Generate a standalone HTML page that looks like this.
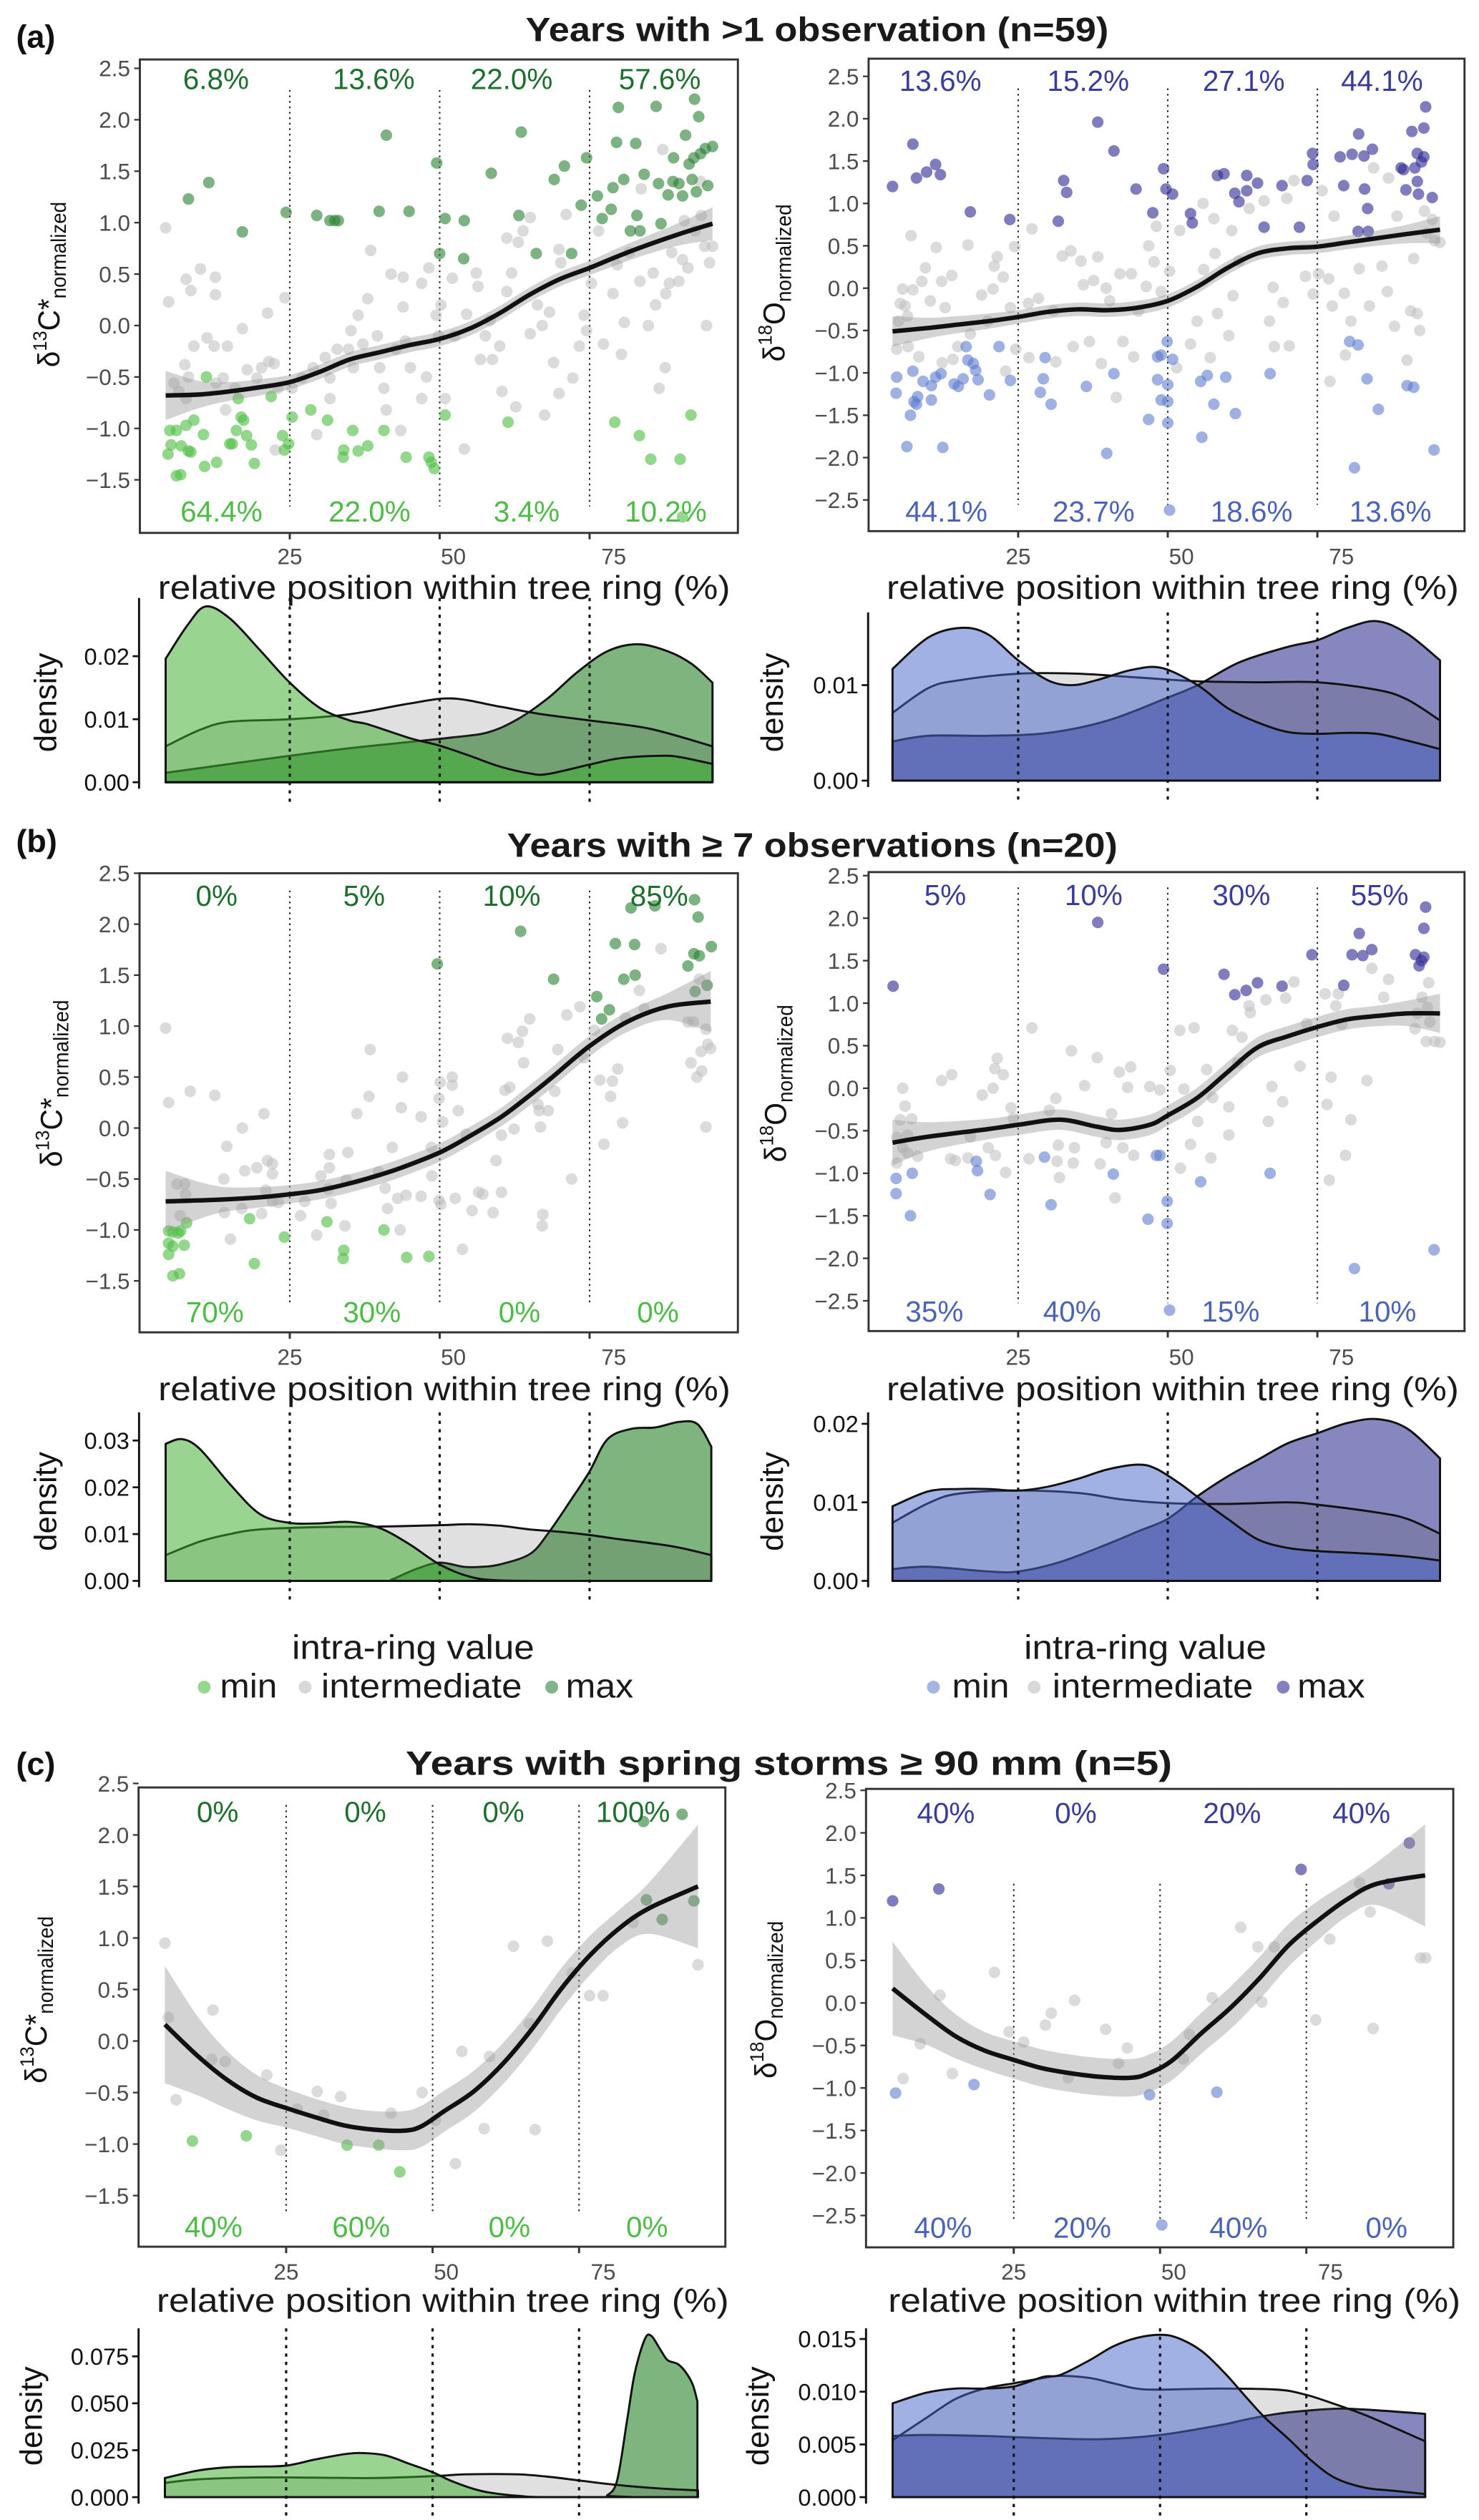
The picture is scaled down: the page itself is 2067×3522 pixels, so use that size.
<!DOCTYPE html>
<html><head><meta charset="utf-8"><title>Intra-ring isotope figure</title>
<style>
html,body{margin:0;padding:0;background:#fff;}
svg{display:block;font-family:"Liberation Sans",Arial,sans-serif;}
</style></head>
<body>
<svg id="fig" xmlns="http://www.w3.org/2000/svg" width="2067" height="3522" viewBox="0 0 920 1567.6">
<rect x="0" y="0" width="920" height="1567.6" fill="#fff"/>
<text x="10" y="29.5" font-size="20" font-weight="bold" fill="#111">(a)</text>
<text x="10" y="530" font-size="20" font-weight="bold" fill="#111">(b)</text>
<text x="10" y="1104" font-size="20" font-weight="bold" fill="#111">(c)</text>
<text x="327" y="25.5" font-size="21" font-weight="bold" fill="#1a1a1a" textLength="362.6" lengthAdjust="spacingAndGlyphs">Years with &gt;1 observation (n=59)</text>
<text x="315.4" y="533" font-size="21" font-weight="bold" fill="#1a1a1a" textLength="379.8" lengthAdjust="spacingAndGlyphs">Years with ≥ 7 observations (n=20)</text>
<text x="252.3" y="1104" font-size="21" font-weight="bold" fill="#1a1a1a" textLength="476.8" lengthAdjust="spacingAndGlyphs">Years with spring storms ≥ 90 mm (n=5)</text>

<g>
<text x="257" y="1032" font-size="21" text-anchor="middle" fill="#1a1a1a" textLength="150.8" lengthAdjust="spacingAndGlyphs">intra-ring value</text>
<circle cx="127" cy="1049.5" r="4" fill="rgba(80,190,70,0.6)"/>
<text x="136.8" y="1056" font-size="21" fill="#1a1a1a" textLength="35.6" lengthAdjust="spacingAndGlyphs">min</text>
<circle cx="189.8" cy="1049.5" r="4" fill="rgba(190,190,190,0.6)"/>
<text x="199.8" y="1056" font-size="21" fill="#1a1a1a" textLength="124.9" lengthAdjust="spacingAndGlyphs">intermediate</text>
<circle cx="343.2" cy="1049.5" r="4" fill="rgba(45,130,55,0.6)"/>
<text x="351.9" y="1056" font-size="21" fill="#1a1a1a" textLength="42.1" lengthAdjust="spacingAndGlyphs">max</text>
</g>
<g>
<text x="712.4" y="1032" font-size="21" text-anchor="middle" fill="#1a1a1a" textLength="150.8" lengthAdjust="spacingAndGlyphs">intra-ring value</text>
<circle cx="580.6" cy="1049.5" r="4" fill="rgba(90,120,205,0.55)"/>
<text x="592.2" y="1056" font-size="21" fill="#1a1a1a" textLength="35.6" lengthAdjust="spacingAndGlyphs">min</text>
<circle cx="643.3" cy="1049.5" r="4" fill="rgba(190,190,190,0.6)"/>
<text x="654.6" y="1056" font-size="21" fill="#1a1a1a" textLength="124.9" lengthAdjust="spacingAndGlyphs">intermediate</text>
<circle cx="798.2" cy="1049.5" r="4" fill="rgba(50,45,150,0.6)"/>
<text x="807" y="1056" font-size="21" fill="#1a1a1a" textLength="42.1" lengthAdjust="spacingAndGlyphs">max</text>
</g>
</svg>
<script>
// ===================== DATA =====================
const aL_max = [8.1,1.23,11.5,1.39,17.1,0.91,24.4,1.10,29.5,1.07,31.7,1.02,32.5,1.02,33.1,1.02,41.1,1.85,39.9,1.11,44.9,1.11,49.5,1.58,50.9,1.04,50,0.70,54.1,1.02,54.0,0.65,58.6,1.48,63.6,1.88,63.2,1.07,66.1,0.70,69.1,1.42,70.8,1.55,72.0,0.70,73.6,1.17,74.5,1.63,76.3,1.26,77.1,1.04,78.6,1.13,78.9,1.34,79.5,1.78,79.8,2.12,80.7,1.42,81.8,0.92,82.7,1.77,82.9,1.07,83.4,0.92,84.1,1.47,86.1,2.13,86.5,1.38,86.9,0.99,88.1,1.27,88.9,1.40,89.0,1.63,89.9,1.38,90.5,1.26,91.0,1.85,91.6,1.57,92.1,1.42,92.4,1.63,92.8,1.30,93.2,2.03,92.5,2.20,93.5,1.67,94.3,1.72,94.7,1.36,95.5,1.74];
const aL_min = [5.0,-1.02,5.2,-1.16,4.7,-1.25,6.1,-1.02,6.9,-1.17,6.1,-1.46,6.8,-1.45,7.7,-0.97,8.1,-1.22,8.5,-1.23,9.0,-0.92,10.6,-1.06,11.1,-0.50,10.8,-1.37,12.8,-1.33,15.0,-1.15,15.4,-1.15,16.1,-1.02,16.4,-0.71,16.9,-0.89,17.3,-0.92,17.8,-1.07,18.6,-1.16,19.1,-1.34,21.9,-0.69,23.8,-1.07,24.1,-1.21,24.8,-1.15,25.4,-0.89,28.5,-0.82,31.3,-0.92,34.0,-1.21,33.9,-1.28,36.4,-1.22,38.0,-1.17,35.5,-1.02,40.7,-1.02,44.4,-1.28,48.2,-1.28,48.6,-1.33,49.1,-1.39,50.9,-0.87,61.4,-0.94,79.2,-0.94,83.3,-1.07,85.2,-1.30,90.1,-1.30,91.9,-0.87,90.5,-1.86];
const aL_int = [4.3,0.95,4.8,0.23,7.7,0.45,8.5,0.34,10.1,0.55,12.6,0.47,12.6,0.30,9.0,-0.20,11.2,-0.12,12.4,-0.20,14.6,-0.20,17.1,-0.03,7.5,-0.38,5.7,-0.56,6.5,-0.64,7.7,-0.71,8.1,-0.50,13.9,-0.51,12.7,-0.56,14.3,-0.82,15.9,-0.61,17.9,-0.43,19.5,-0.51,20.3,-0.41,21.5,-0.35,22.4,-0.37,21.3,0.12,24.2,0.27,23.0,-0.61,25.4,-0.61,22.6,-1.21,27.0,-0.51,28.9,-0.41,30.9,-0.31,31.7,-0.51,29.5,-1.06,31.7,-0.71,32.9,-0.23,34.8,-0.23,35.2,-0.05,35.6,-0.41,36.4,0.10,37.2,-0.18,38.0,0.26,38.5,0.73,39.6,-0.10,40.0,-0.41,40.7,-0.61,41.1,-0.82,41.9,0.50,42.7,-0.23,43.5,-1.02,43.9,0.47,43.9,0.18,44.3,-0.15,45.1,-0.41,47.0,0.41,47.0,-0.71,47.8,-0.50,48.2,0.56,49.4,0.10,49.8,-0.10,50.2,0.20,50.9,-0.71,52.1,0.46,52.5,-0.10,54.5,0.11,54.1,-1.20,56.1,0.51,56.4,0.38,56.8,-0.33,57.6,-0.10,58.4,0.05,58.8,-0.33,60.0,-0.20,60.4,-0.64,61.2,0.33,61.2,0.85,62.0,0.51,62.7,-0.79,63.1,0.81,63.9,0.92,65.1,1.05,65.1,-0.08,66.3,0.20,67.1,0.00,67.5,-0.87,68.3,0.13,69.0,-0.36,69.9,0.74,69.9,-0.66,70.2,0.61,71.1,1.08,72.2,-0.51,73.3,-0.20,74.1,0.10,74.5,-0.05,75.3,0.41,76.5,0.92,77.3,-0.18,78.9,0.31,79.6,0.59,80.3,-0.28,80.8,0.03,81.6,0.71,83.4,0.43,83.6,1.33,84.8,0.00,85.6,0.51,86.0,0.20,86.6,-0.61,87.6,-0.41,87.7,0.31,88.7,0.71,88.3,0.41,89.9,0.43,90.5,0.64,90.8,1.02,91.4,0.56,92.6,0.92,93.6,1.07,94.2,0.77,94.5,0.00,95.0,0.61,95.5,0.77,93.5,1.40,87.2,1.71];

const aR_max = [4.0,1.20,7.4,1.70,8.0,1.30,9.7,1.37,11.2,1.46,12.0,1.34,17.0,0.90,23.6,0.81,31.7,0.79,32.6,1.27,33.1,1.13,38.3,1.96,41.0,1.62,44.7,1.17,47.5,0.89,49.3,1.41,49.7,1.17,50.8,1.11,53.8,0.88,54.1,0.77,58.3,1.33,59.4,1.35,61.2,1.12,61.9,1.02,63.2,1.33,63.2,1.15,65.0,1.24,66.1,0.72,69.1,1.21,72.0,0.72,73.3,1.27,74.2,1.59,74.3,1.46,78.8,1.55,79.4,1.21,80.8,1.58,81.9,1.82,82.8,1.56,82.9,1.17,83.4,0.94,84.2,1.64,81.8,0.67,83.5,0.67,89.0,1.42,89.4,1.40,89.8,1.16,90.8,1.85,91.3,1.42,91.7,1.26,91.7,1.59,91.9,1.11,92.4,1.49,92.8,1.89,92.8,1.55,93.1,2.14,94.2,1.07];
const aR_min = [4.7,-1.05,4.6,-1.24,6.4,-1.87,7.0,-1.50,7.4,-0.98,7.6,-1.34,8.2,-1.28,8.0,-1.37,9.1,-1.10,10.5,-1.15,10.5,-1.32,11.2,-1.05,12.1,-1.01,12.4,-1.88,14.3,-1.13,15.0,-1.16,15.8,-1.07,16.3,-0.69,16.6,-0.85,17.5,-0.89,17.9,-0.97,18.3,-1.08,20.2,-1.26,21.8,-0.69,23.7,-1.09,28.7,-1.23,29.2,-1.07,29.5,-0.82,30.5,-1.37,36.4,-1.16,39.8,-1.95,41.0,-1.01,46.8,-1.55,48.3,-0.81,48.9,-0.79,48.3,-1.08,49.9,-0.63,50.0,-1.14,50.0,-1.34,48.9,-1.32,50.0,-1.59,50.8,-0.84,50.3,-2.62,55.7,-1.76,55.5,-1.10,56.6,-1.03,57.7,-1.37,59.7,-1.05,61.3,-1.48,67.1,-1.01,80.4,-0.63,81.8,-0.67,81.2,-2.12,83.3,-1.07,85.2,-1.43,90.0,-1.15,91.1,-1.17,94.5,-1.91];
const aR_int = [4.7,-0.72,5.0,-0.39,5.3,-0.18,5.7,-0.01,6.1,-0.21,6.5,-0.33,6.6,-0.69,7.1,0.62,7.4,-0.02,8.4,-0.81,8.9,0.08,9.5,0.24,10.3,-0.15,11.3,0.48,12.2,0.08,12.8,-0.23,13.9,0.15,12.3,-0.88,14.1,-0.84,14.9,-0.69,16.6,0.51,17.0,-0.54,18.9,-0.08,19.9,-0.39,20.8,-0.01,21.0,0.26,21.5,0.37,22.5,0.13,22.9,-0.98,23.7,-0.23,24.4,0.49,24.6,-0.72,26.7,-0.18,27.3,0.70,26.8,-0.82,28.4,-0.12,30.9,-0.27,31.3,-0.87,32.4,0.38,33.8,0.44,34.2,-0.69,35.5,0.32,35.9,0.04,36.9,-0.63,37.6,0.09,38.3,0.37,38.9,-0.89,39.7,0.00,40.3,-0.15,41.4,-1.29,42.0,0.17,42.5,-0.63,44.3,-0.81,43.9,0.17,45.1,-0.27,46.4,0.02,46.8,0.50,47.7,0.31,48.1,0.73,48.9,-0.04,50.3,0.20,51.5,-0.94,52.0,0.68,53.8,-0.66,54.9,-0.39,55.9,1.00,56.0,0.22,57.1,-0.82,57.7,0.82,57.9,0.41,58.3,-0.30,60.2,-0.56,60.7,0.68,60.9,-0.09,61.9,0.32,63.6,0.94,66.1,1.03,67.0,-0.39,67.6,0.01,67.8,-0.69,69.3,-0.17,69.9,1.06,70.3,-0.68,71.1,1.27,73.0,0.14,74.3,-0.07,75.2,0.17,75.8,1.15,76.9,0.11,77.1,-1.10,77.5,-0.21,77.8,0.85,79.5,-0.06,79.7,-0.79,80.6,-0.39,82.0,0.23,83.7,-0.21,84.4,1.42,85.8,0.26,86.7,-0.04,86.9,1.30,87.9,-0.45,88.3,0.85,90.0,-0.85,90.6,-0.27,91.1,0.35,91.7,-0.30,92.1,-0.50,92.9,0.91,93.3,0.65,94.2,0.81,94.6,0.56,95.5,0.54];

const bL_max = [49.6,1.61,63.5,1.93,69.0,1.46,76.2,1.29,77.0,1.07,78.3,1.16,79.3,1.81,81.9,2.16,82.5,1.80,80.7,1.46,82.6,1.50,85.9,2.18,91.4,1.59,92.5,2.24,93.1,2.07,92.4,1.71,93.3,1.69,92.6,1.34,94.6,1.40,95.3,1.78];
const bL_min = [4.8,-1.01,5.5,-1.02,6.4,-1.03,4.8,-1.13,5.5,-1.16,6.8,-1.01,7.8,-0.93,7.4,-1.15,4.8,-1.24,5.5,-1.45,6.6,-1.43,18.3,-0.89,19.1,-1.33,24.1,-1.07,31.2,-0.92,34.0,-1.20,33.9,-1.28,40.7,-1.00,44.5,-1.27,48.2,-1.26];
const bL_int = [4.3,0.98,4.8,0.25,8.4,0.36,12.5,0.32,17.1,0.00,14.5,-0.18,14.0,-0.50,17.5,-0.42,19.5,-0.39,20.7,0.14,21.3,-0.32,22.1,-0.35,22.1,-0.45,6.2,-0.55,7.5,-0.55,7.6,-0.65,6.7,-0.86,14.1,-0.83,15.1,-1.09,17.0,-0.79,20.3,-0.84,21.0,-0.61,22.1,-0.72,23.1,-0.73,27.5,-0.72,26.8,-0.86,29.5,-1.05,30.2,-0.47,31.6,-0.26,31.6,-0.39,31.4,-0.60,31.9,-0.74,34.7,-0.24,34.4,-0.51,34.2,-0.96,36.2,0.14,38.2,0.31,38.4,0.77,39.8,-0.43,40.9,-0.59,41.3,-0.79,42.1,-0.19,43.0,-0.69,43.4,-1.00,43.6,0.20,43.8,0.50,44.4,-0.66,46.9,0.11,46.9,-0.67,48.6,-0.19,48.7,-0.47,49.9,0.29,50.1,0.45,50.5,0.06,49.9,-0.71,50.2,-0.75,52.1,0.50,52.1,0.42,52.6,-0.69,53.1,0.17,53.8,-1.19,54.4,-0.06,55.4,-0.81,56.5,-0.63,57.2,-0.65,58.9,-0.83,59.4,-0.32,60.3,-0.07,60.3,-0.63,60.9,0.37,61.7,0.40,61.3,0.88,62.4,-0.01,63.1,0.84,63.8,0.95,64.0,0.64,65.0,1.07,66.4,0.23,66.8,0.01,66.6,0.17,67.2,-0.85,67.1,-0.96,68.1,0.17,69.2,0.36,69.7,0.77,71.2,1.11,72.0,-0.50,73.4,1.19,74.1,0.69,75.8,0.96,76.7,0.47,77.4,-0.16,78.5,0.31,78.8,0.46,79.7,0.58,80.5,0.05,81.0,1.08,83.3,1.35,84.1,1.17,86.9,1.76,91.4,1.04,91.9,0.64,92.3,1.04,92.9,0.50,93.3,1.46,93.6,0.75,93.7,0.56,94.4,0.97,94.7,0.82,95.2,0.78,94.4,0.01];

const bR_max = [4.1,1.20,38.3,1.95,49.3,1.40,59.4,1.34,61.2,1.10,63.1,1.15,65.0,1.24,69.1,1.20,74.1,1.57,79.4,1.21,80.8,1.57,82.0,1.82,82.6,1.56,84.1,1.63,91.4,1.57,92.0,1.44,92.4,1.50,92.8,1.54,92.8,1.88,93.1,2.13];
const bR_min = [4.6,-1.06,4.6,-1.24,7.0,-1.50,7.3,-1.00,18.0,-0.86,18.2,-0.97,20.3,-1.25,29.4,-0.81,30.5,-1.37,40.9,-1.01,46.7,-1.54,48.1,-0.79,48.7,-0.79,49.9,-1.33,49.9,-1.59,50.3,-2.61,55.5,-1.10,67.1,-1.00,81.2,-2.12,94.5,-1.90];
const bR_int = [5.7,0.00,4.7,-0.58,5.3,-0.37,6.1,-0.21,6.5,-0.55,7.2,-0.36,4.7,-0.88,5.7,-0.70,6.5,-0.76,8.2,-0.80,12.2,0.09,13.9,0.16,13.7,-0.83,14.5,-0.85,16.6,-0.82,17.0,-0.57,19.0,-0.08,20.0,-0.70,20.8,0.00,21.1,0.23,21.5,0.35,22.5,0.16,21.2,-0.79,22.9,-0.99,23.8,-0.23,24.2,-0.35,26.8,-0.83,27.3,0.71,30.2,-0.26,31.3,-0.12,31.7,-0.67,31.9,-1.05,31.5,-0.86,33.9,0.44,34.2,-0.88,34.4,-0.70,36.1,0.03,38.2,0.36,38.7,-0.89,39.7,-0.64,40.6,-0.30,41.2,-1.29,41.9,0.19,42.5,-0.70,43.3,0.01,43.8,0.25,44.3,-0.79,47.0,0.02,48.7,-0.02,50.4,0.21,52.0,0.68,52.1,-0.94,52.7,-0.01,53.8,-0.66,54.4,0.71,55.0,-0.39,56.5,0.22,57.2,-0.82,57.5,-0.11,60.2,-0.55,60.2,-0.22,60.8,0.68,61.7,0.30,62.4,0.60,63.6,0.97,63.8,0.89,66.4,1.04,66.8,-0.39,67.4,0.02,69.2,-0.16,69.7,1.06,71.1,1.25,72.1,0.26,73.2,0.76,76.3,1.11,76.6,-0.19,77.0,-1.08,77.3,0.13,78.1,0.97,78.5,1.11,79.1,0.75,79.7,-0.79,80.6,-0.37,83.3,0.09,84.1,1.41,86.1,1.07,86.9,1.28,91.3,0.70,91.7,0.88,92.5,1.07,93.4,0.95,93.6,1.24,93.8,0.78,93.2,0.55,94.6,0.55,95.5,0.54];

const cL_max = [86.0,2.13,92.6,2.20,86.5,1.37,89.2,1.18,94.6,1.36];
const cL_min = [9.0,-0.97,18.2,-0.92,35.4,-1.01,40.8,-1.01,44.4,-1.27];
const cL_int = [4.3,0.95,4.9,0.23,6.2,-0.57,12.5,0.30,12.3,-0.18,14.6,-0.20,21.7,-0.33,24.1,-1.06,26.9,-0.66,30.3,-0.49,31.4,-0.72,34.3,-0.54,42.9,-0.70,48.2,-0.50,50.5,-0.77,53.9,-1.19,55.0,-0.10,58.8,-0.85,59.7,-0.15,63.8,0.92,66.5,0.17,67.5,-0.86,69.6,0.97,73.8,0.66,76.8,0.44,79.1,0.44,84.2,1.15,95.3,0.74];

const cR_max = [4.3,1.20,12.2,1.34,74.1,1.57,92.6,1.88,89.1,1.40];
const cR_min = [4.8,-1.06,18.2,-0.96,48.2,-1.08,50.3,-2.61,59.7,-1.05];
const cR_int = [6.1,-0.89,9.0,-0.48,12.4,0.09,14.5,-0.83,21.7,0.36,24.2,-0.34,26.7,-0.46,30.4,-0.26,31.4,-0.12,34.3,-0.88,35.4,0.03,40.7,-0.31,42.9,-0.71,44.4,-0.53,54.0,-0.66,55.0,-0.37,58.9,0.06,63.8,0.89,66.7,0.66,67.4,0.01,69.5,0.66,76.6,-0.20,79.0,0.75,84.1,1.41,85.9,1.07,86.4,-0.30,94.5,0.53,95.4,0.53];

const aL_sx = [4.3,10,15,20,25,30,35,40,45,50,55,60,65,70,75,80,85,90,95.5];
const aL_fit = [-0.68,-0.67,-0.64,-0.60,-0.55,-0.45,-0.33,-0.26,-0.19,-0.13,-0.03,0.12,0.30,0.45,0.56,0.68,0.79,0.89,0.99];
const aL_se = [0.24,0.13,0.09,0.08,0.07,0.07,0.07,0.07,0.07,0.07,0.07,0.07,0.07,0.07,0.07,0.08,0.09,0.11,0.16];
const aR_sx = [4,10,15,20,25,30,35,40,45,50,55,60,65,70,75,80,85,90,95.5];
const aR_fit = [-0.51,-0.47,-0.43,-0.39,-0.34,-0.28,-0.25,-0.26,-0.23,-0.15,0.02,0.24,0.41,0.47,0.49,0.54,0.59,0.64,0.69];
const aR_se = [0.18,0.12,0.10,0.09,0.08,0.08,0.08,0.08,0.08,0.08,0.08,0.08,0.08,0.08,0.08,0.08,0.09,0.11,0.16];
const bL_sx = [4.3,10,14.3,20,25,30,35.2,40,43.6,50,55,60.3,65,68.6,74.9,81.2,87.9,95.2];
const bL_fit = [-0.72,-0.71,-0.70,-0.68,-0.65,-0.61,-0.54,-0.46,-0.39,-0.24,-0.08,0.11,0.32,0.49,0.80,1.04,1.19,1.24];
const bL_se = [0.30,0.18,0.12,0.10,0.09,0.09,0.09,0.09,0.09,0.09,0.09,0.09,0.10,0.10,0.10,0.10,0.13,0.30];
const bR_sx = [4,10,20,25,32,38,42,47,50,55,60,65,70,75,80,85,90,95.5];
const bR_fit = [-0.64,-0.57,-0.48,-0.43,-0.37,-0.45,-0.49,-0.43,-0.32,-0.11,0.19,0.48,0.61,0.72,0.81,0.85,0.88,0.88];
const bR_se = [0.27,0.17,0.12,0.12,0.12,0.12,0.12,0.12,0.12,0.12,0.12,0.12,0.12,0.12,0.12,0.12,0.15,0.23];
const cL_sx = [4.3,10,15,20,25,30,35,40,45,48,52,57,62,67,72,77,82,87,95.3];
const cL_fit = [0.16,-0.15,-0.38,-0.55,-0.65,-0.74,-0.82,-0.86,-0.87,-0.83,-0.68,-0.49,-0.22,0.12,0.51,0.84,1.10,1.29,1.50];
const cL_se = [0.57,0.38,0.28,0.22,0.19,0.18,0.18,0.18,0.19,0.20,0.20,0.20,0.20,0.20,0.20,0.19,0.18,0.25,0.60];
const cR_sx = [4.3,10,15,20,25,30,35,40,45,48,52,57,62,67,72,77,82,87,95.3];
const cR_fit = [0.17,-0.14,-0.39,-0.56,-0.67,-0.77,-0.83,-0.87,-0.88,-0.83,-0.68,-0.36,-0.06,0.29,0.68,0.97,1.22,1.40,1.50];
const cR_se = [0.55,0.35,0.26,0.22,0.22,0.22,0.22,0.22,0.22,0.22,0.23,0.24,0.25,0.25,0.25,0.23,0.20,0.25,0.60];

const aL_topPct = ['6.8%','13.6%','22.0%','57.6%'];
const aL_botPct = ['64.4%','22.0%','3.4%','10.2%'];
const aR_topPct = ['13.6%','15.2%','27.1%','44.1%'];
const aR_botPct = ['44.1%','23.7%','18.6%','13.6%'];
const bL_topPct = ['0%','5%','10%','85%'];
const bL_botPct = ['70%','30%','0%','0%'];
const bR_topPct = ['5%','10%','30%','55%'];
const bR_botPct = ['35%','40%','15%','10%'];
const cL_topPct = ['0%','0%','0%','100%'];
const cL_botPct = ['40%','60%','0%','0%'];
const cR_topPct = ['40%','0%','20%','40%'];
const cR_botPct = ['40%','20%','40%','0%'];

const dAL_min = [4.3,.0196,8,.025,11,.0279,15,.026,20,.021,25,.0158,30,.0118,35,.0098,38,.0092,45,.007,50,.0058,55,.0042,60,.0025,65,.0014,68,.0013,75,.0028,80,.0038,86.7,.0042,90,.004,95.5,.0029];
const dAL_int = [4.3,.0057,10,.0083,15,.0096,25,.010,35,.0108,45,.0125,52,.0133,60,.012,67,.0108,75,.0098,85,.0085,95.5,.0057];
const dAL_max = [4.3,.0015,15,.0029,25,.0042,35,.0054,45,.0064,52,.0071,58,.0079,63,.010,68,.0133,73,.0175,78,.0208,83,.0219,88,.0208,92,.0188,95.5,.0158];
const dAR_min = [4,.0117,10,.015,15.5,.016,20,.0153,25,.0126,30,.0105,34,.010,38,.0105,44,.0116,49,.0118,55,.010,60,.0076,65,.0061,70,.0051,75,.0049,80,.005,85,.0049,90,.0042,95.5,.0033];
const dAR_int = [4,.0071,10,.0097,15,.0105,25,.0112,35,.0112,45,.0108,55,.0104,65,.0103,75,.0103,85,.0095,90,.0085,95.5,.0063];
const dAR_max = [4,.0041,10,.0047,20,.0047,30,.005,40,.0063,50,.0087,55,.010,62,.0124,70,.014,75,.0147,80,.016,85,.0167,90,.0154,95.5,.0126];
const dBL_min = [4.3,.0293,7,.0303,10,.0282,15,.0207,20,.0143,25,.0124,30,.0123,35,.0126,40,.0113,45,.0078,50,.0035,55,.0009,60,.0001,70,0,95.3,0];
const dBL_int = [4.3,.0055,10,.0084,15,.010,20,.011,30,.0115,40,.0116,50,.0119,55,.0121,60,.0118,65,.011,70,.0105,75,.0098,80,.0089,85,.0081,90,.0071,95.3,.0055];
const dBL_max = [4.3,0,40,0,42,.0003,46,.0025,50,.0039,54,.003,57,.003,60,.0035,65,.0057,68,.010,72,.0175,75,.0234,78,.0303,82,.0325,86,.0328,90,.034,93,.0335,95.3,.0287];
const dBR_min = [4,.0095,10,.0114,15,.0117,20,.0117,25,.0115,30,.012,35,.013,40,.0142,45,.0148,48,.0143,52,.0124,56,.0101,60,.0079,65,.0053,70,.0042,75,.0038,80,.0036,85,.0034,90,.0031,95.5,.0026];
const dBR_int = [4,.0074,10,.0099,15,.0111,25,.0115,35,.0112,42,.0104,50,.0099,60,.0098,70,.010,75,.0097,85,.0087,90,.0079,95.5,.006];
const dBR_max = [4,.0015,10,.0018,20,.0012,25,.0012,32,.0024,40,.0047,45,.0063,50,.0079,55,.0108,60,.0133,65,.0154,70,.0175,75,.0188,80,.0201,85,.0206,90,.0194,95.5,.0156];
const dCL_min = [4.3,.0102,10,.0142,15,.0159,20,.0163,25,.0168,30,.0201,35,.0229,38,.0235,42,.0222,46,.0178,50,.0133,53,.0089,57,.0044,60,.0023,65,.0006,70,0,95.3,0];
const dCL_int = [4.3,.0076,10,.0095,20,.0105,30,.0104,40,.0102,50,.0112,55,.0121,60,.0123,65,.0121,70,.0108,75,.0089,80,.007,85,.0055,90,.0044,95.3,.0036];
const dCL_max = [4.3,0,78,0,79.8,.001,81.5,.009,83.2,.041,84.5,.066,86.2,.084,87.3,.086,88.8,.079,90.1,.073,91.8,.071,93.1,.067,94.4,.060,95.2,.051];
const dCR_min = [4.3,.0089,10,.0099,15,.0103,20,.0103,25,.0105,30,.0114,33,.0116,38,.013,42,.0143,46,.0151,50,.0154,53,.0151,57,.0139,61,.0118,65,.0093,68,.0075,72,.0055,76,.0034,80,.0018,85,.0009,90,.0006,95.3,.0003];
const dCR_int = [4.3,.0054,10,.0075,15,.0093,20,.0103,25,.0108,30,.0113,33,.0115,38,.0113,42,.0108,46,.0103,50,.0102,60,.0103,70,.0102,75,.0097,80,.0088,85,.0078,90,.0066,95.3,.0053];
const dCR_max = [4.3,.0058,10,.0059,20,.0058,30,.0056,40,.0055,50,.0059,60,.0068,65,.0074,70,.0079,75,.0082,81,.0084,88,.0082,95.3,.0079];

const xTickVals = [25,50,75];
const yTicksC = [2.5,2.0,1.5,1.0,0.5,0.0,-0.5,-1.0,-1.5];
const yTicksO = [2.5,2.0,1.5,1.0,0.5,0.0,-0.5,-1.0,-1.5,-2.0,-2.5];
const dTicksAL = [0,0.01,0.02];
const dTicksAR = [0,0.01];
const dTicksBL = [0,0.01,0.02,0.03];
const dTicksBR = [0,0.01,0.02];
const dTicksCL = [0,0.025,0.05,0.075];
const dTicksCR = [0,0.005,0.01,0.015];

// ===================== DRAWING =====================
const NS='http://www.w3.org/2000/svg';
const svg=document.getElementById('fig');
function mk(tag, attrs, parent){const e=document.createElementNS(NS,tag);for(const k in attrs)e.setAttribute(k,attrs[k]);(parent||svg).appendChild(e);return e;}
function fmtTick(v,d){let s=v.toFixed(d);if(v<0)s='\u2212'+s.slice(1);return s;}
function pairs(arr){const o=[];for(let i=0;i<arr.length;i+=2)o.push([arr[i],arr[i+1]]);return o;}
function spline(pts, clampY){
  let d='';
  for(let i=0;i<pts.length-1;i++){
    const p0=pts[Math.max(0,i-1)],p1=pts[i],p2=pts[i+1],p3=pts[Math.min(pts.length-1,i+2)];
    let c1x=p1[0]+(p2[0]-p0[0])/6,c1y=p1[1]+(p2[1]-p0[1])/6;
    let c2x=p2[0]-(p3[0]-p1[0])/6,c2y=p2[1]-(p3[1]-p1[1])/6;
    if(clampY!==undefined){c1y=Math.min(c1y,clampY);c2y=Math.min(c2y,clampY);}
    d+=' C'+c1x.toFixed(2)+','+c1y.toFixed(2)+' '+c2x.toFixed(2)+','+c2y.toFixed(2)+' '+p2[0].toFixed(2)+','+p2[1].toFixed(2);
  }
  return d;
}

const GREEN={min:'rgba(80,190,70,0.62)',int:'rgba(190,190,190,0.55)',max:'rgba(45,130,55,0.62)',top:'#1d6f2e',bot:'#4dbb45',
  dmin:'rgba(60,175,45,0.52)',dint:'rgba(70,70,70,0.17)',dmax:'rgba(40,130,40,0.6)'};
const BLUE={min:'rgba(90,120,205,0.58)',int:'rgba(190,190,190,0.55)',max:'rgba(50,45,150,0.62)',top:'#3a3c9a',bot:'#4a63b9',
  dmin:'rgba(70,100,200,0.5)',dint:'rgba(70,70,70,0.17)',dmax:'rgba(55,55,150,0.6)'};

function drawScatter(P){
  const g=mk('g',{});
  
  
  const X=v=>P.x0+v*P.sx, Y=v=>P.y25-(v-2.5)*P.ppu;
  const bg=mk('rect',{x:P.L,y:P.T,width:P.R-P.L,height:P.B-P.T,fill:'#fff'},g);
  
  
  xTickVals.forEach(v=>{
    const l=mk('line',{x1:X(v),x2:X(v),y1:P.dT,y2:P.dB,stroke:'#222','stroke-width':0.9,'stroke-dasharray':'1.1 2.3'},g);
    
    
  });
  const cats=[['int',P.pInt,'point-intermediate'],['min',P.pMin,'point-min'],['max',P.pMax,'point-max']];
  cats.forEach(c=>{
    pairs(c[1]).forEach(p=>{
      const cc=mk('circle',{cx:X(p[0]).toFixed(2),cy:Y(p[1]).toFixed(2),r:3.6,fill:P.pal[c[0]]},g);
      
      
    });
  });
  const up=P.sx_.map((x,i)=>[X(x),Y(P.fit[i]+P.se[i])]);
  const lo=P.sx_.map((x,i)=>[X(x),Y(P.fit[i]-P.se[i])]).reverse();
  const rib=mk('path',{d:'M'+up[0][0]+','+up[0][1]+spline(up)+' L'+lo[0][0]+','+lo[0][1]+spline(lo)+' Z',fill:'rgba(150,150,150,0.42)',stroke:'none'},g);
  
  
  const ln=P.sx_.map((x,i)=>[X(x),Y(P.fit[i])]);
  const sm=mk('path',{d:'M'+ln[0][0]+','+ln[0][1]+spline(ln),fill:'none',stroke:'#111','stroke-width':2.8},g);
  
  
  P.topPct.forEach((t,i)=>{
    const e=mk('text',{x:X(P.topX[i]),y:P.topY,'font-size':18,'text-anchor':'middle',fill:P.pal.top},g);
    e.textContent=t;
    
    
  });
  P.botPct.forEach((t,i)=>{
    const e=mk('text',{x:X(P.botX[i]),y:P.botY,'font-size':18,'text-anchor':'middle',fill:P.pal.bot},g);
    e.textContent=t;
    
    
  });
  const br=mk('rect',{x:P.L,y:P.T,width:P.R-P.L,height:P.B-P.T,fill:'none',stroke:'#333','stroke-width':1.3},g);
  
  
  P.yt.forEach(v=>{
    const t=mk('line',{x1:P.L-3.5,x2:P.L,y1:Y(v),y2:Y(v),stroke:'#333','stroke-width':1},g);
    
    
    const e=mk('text',{x:P.L-6,y:Y(v)+5,'font-size':14,'text-anchor':'end',fill:'#4d4d4d'},g);
    e.textContent=fmtTick(v,1);
    
    
  });
  const offs=[0,8.5,15];
  xTickVals.forEach((v,i)=>{
    const t=mk('line',{x1:X(v),x2:X(v),y1:P.B,y2:P.B+4,stroke:'#333','stroke-width':1.3},g);
    
    
    const e=mk('text',{x:X(v)+offs[i],y:P.tickBase,'font-size':14,'text-anchor':'middle',fill:'#4d4d4d'},g);
    e.textContent=String(v);
    
    
  });
  const xt=mk('text',{x:P.xtL,y:P.xtBase,'font-size':20.5,fill:'#1a1a1a',textLength:356,lengthAdjust:'spacingAndGlyphs'},g);
  xt.textContent='relative position within tree ring (%)';
  
  
  const yt=mk('text',{transform:'translate('+P.ytX+','+P.ytY+') rotate(-90)','text-anchor':'middle','font-size':19,fill:'#111',textLength:P.ytLen,lengthAdjust:'spacingAndGlyphs'},g);
  
  
  const s1=mk('tspan',{},yt); s1.textContent='\u03B4';
  const s2=mk('tspan',{'font-size':12,dy:-8},yt); s2.textContent=P.iso;
  const s3=mk('tspan',{dy:8},yt); s3.textContent=P.el;
  const s4=mk('tspan',{'font-size':13,dy:4},yt); s4.textContent='normalized';
}

function drawDensity(D){
  const g=mk('g',{});
  
  
  const X=v=>D.x0+v*D.sx, Y=v=>D.zero-v*D.per;
  const curves=[['max',D.cMax,D.pal.dmax,'density-max'],['int',D.cInt,D.pal.dint,'density-intermediate'],['min',D.cMin,D.pal.dmin,'density-min']];
  curves.forEach(c=>{
    const pts=pairs(c[1]).map(p=>[X(p[0]),Y(p[1])]);
    const d='M'+pts[0][0].toFixed(2)+','+D.zero+' L'+pts[0][0].toFixed(2)+','+pts[0][1].toFixed(2)+spline(pts,D.zero)+' L'+pts[pts.length-1][0].toFixed(2)+','+D.zero+' Z';
    const a=mk('path',{d:d,fill:c[2],stroke:'#111','stroke-width':1.3,'stroke-linejoin':'round'},g);
    
    
  });
  xTickVals.forEach(v=>{
    const l=mk('line',{x1:X(v),x2:X(v),y1:D.top,y2:D.zero+13,stroke:'#111','stroke-width':1.4,'stroke-dasharray':'2 3.2'},g);
    
    
  });
  const ax=mk('line',{x1:D.L,x2:D.L,y1:D.top,y2:D.zero+4,stroke:'#111','stroke-width':1.3},g);
  
  
  D.ticks.forEach(v=>{
    const t=mk('line',{x1:D.L-4,x2:D.L,y1:Y(v),y2:Y(v),stroke:'#111','stroke-width':1.2},g);
    
    
    const e=mk('text',{x:D.L-6,y:Y(v)+5.2,'font-size':14.5,'text-anchor':'end',fill:'#111'},g);
    e.textContent=v.toFixed(D.dec);
    
    
  });
  const yt=mk('text',{transform:'translate('+D.ytX+','+D.ytY+') rotate(-90)','text-anchor':'middle','font-size':19.5,fill:'#111'},g);
  yt.textContent='density';
  
  
}

drawScatter({name:'panel-a-carbon',L:87,R:459,T:37,B:331.5,x0:87,sx:3.73,y25:42.5,ppu:64,yt:yTicksC,dT:56,dB:315,
  pMin:aL_min,pInt:aL_int,pMax:aL_max,sx_:aL_sx,fit:aL_fit,se:aL_se,pal:GREEN,
  topPct:aL_topPct,botPct:aL_botPct,topX:[12.7,39,62,86.7],botX:[13.6,38.3,64.5,87.7],topY:55.5,botY:324.5,
  tickBase:351,xtL:98.2,xtBase:372.5,ytX:37,ytY:177,ytLen:103,iso:'13',el:'C*'});
drawScatter({name:'panel-a-oxygen',L:540.3,R:911,T:36.5,B:330.4,x0:540.3,sx:3.722,y25:47.5,ppu:52.7,yt:yTicksO,dT:55,dB:314,
  pMin:aR_min,pInt:aR_int,pMax:aR_max,sx_:aR_sx,fit:aR_fit,se:aR_se,pal:BLUE,
  topPct:aR_topPct,botPct:aR_botPct,topX:[12.0,36.7,62.7,85.8],botX:[13.0,37.6,64.0,87.2],topY:56.5,botY:324.5,
  tickBase:351,xtL:551.5,xtBase:372.5,ytX:488,ytY:176,ytLen:98,iso:'18',el:'O'});
drawScatter({name:'panel-b-carbon',L:86.8,R:459,T:543.2,B:828.8,x0:87,sx:3.73,y25:543.2,ppu:63.4,yt:yTicksC,dT:554,dB:812.3,
  pMin:bL_min,pInt:bL_int,pMax:bL_max,sx_:bL_sx,fit:bL_fit,se:bL_se,pal:GREEN,
  topPct:bL_topPct,botPct:bL_botPct,topX:[12.8,37.4,62.0,86.6],botX:[12.5,38.7,63.3,86.4],topY:563.5,botY:822.5,
  tickBase:849,xtL:98.4,xtBase:871,ytX:38.5,ytY:674,ytLen:104,iso:'13',el:'C*'});
drawScatter({name:'panel-b-oxygen',L:540.3,R:911,T:542.5,B:828,x0:540.3,sx:3.722,y25:544.7,ppu:52.9,yt:yTicksO,dT:552,dB:810.7,
  pMin:bR_min,pInt:bR_int,pMax:bR_max,sx_:bR_sx,fit:bR_fit,se:bR_se,pal:BLUE,
  topPct:bR_topPct,botPct:bR_botPct,topX:[12.8,37.6,62.3,85.4],botX:[11.0,34.0,60.5,86.7],topY:563,botY:822,
  tickBase:849,xtL:551.5,xtBase:871,ytX:489,ytY:674,ytLen:98,iso:'18',el:'O'});
drawScatter({name:'panel-c-carbon',L:86.2,R:451.2,T:1111.9,B:1397.6,x0:86.9,sx:3.644,y25:1109.4,ppu:64.1,yt:yTicksC,dT:1122.8,dB:1377.5,
  pMin:cL_min,pInt:cL_int,pMax:cL_max,sx_:cL_sx,fit:cL_fit,se:cL_se,pal:GREEN,
  topPct:cL_topPct,botPct:cL_botPct,topX:[13.3,38.5,62.1,84.2],botX:[12.6,37.8,63.1,86.6],topY:1133.5,botY:1391.5,
  tickBase:1418,xtL:97.4,xtBase:1438,ytX:29,ytY:1244,ytLen:104,iso:'13',el:'C*'});
drawScatter({name:'panel-c-oxygen',L:538.7,R:904,T:1112.8,B:1398,x0:539.6,sx:3.64,y25:1113.7,ppu:52.9,yt:yTicksO,dT:1171.8,dB:1380.4,
  pMin:cR_min,pInt:cR_int,pMax:cR_max,sx_:cR_sx,fit:cR_fit,se:cR_se,pal:BLUE,
  topPct:cR_topPct,botPct:cR_botPct,topX:[13.4,35.6,62.3,84.4],botX:[12.9,36.7,63.4,88.7],topY:1134,botY:1392,
  tickBase:1418,xtL:552.5,xtBase:1438,ytX:483,ytY:1244,ytLen:98,iso:'18',el:'O'});

drawDensity({name:'density-a-carbon',L:86.5,x0:87,sx:3.73,zero:486.6,per:3920,top:372,ticks:dTicksAL,dec:2,
  cMin:dAL_min,cInt:dAL_int,cMax:dAL_max,pal:GREEN,ytX:35,ytY:437});
drawDensity({name:'density-a-oxygen',L:540,x0:540.3,sx:3.722,zero:485.6,per:5940,top:381,ticks:dTicksAR,dec:2,
  cMin:dAR_min,cInt:dAR_int,cMax:dAR_max,pal:BLUE,ytX:487,ytY:437});
drawDensity({name:'density-b-carbon',L:86.5,x0:87,sx:3.73,zero:983.4,per:2910,top:878.6,ticks:dTicksBL,dec:2,
  cMin:dBL_min,cInt:dBL_int,cMax:dBL_max,pal:GREEN,ytX:35,ytY:934});
drawDensity({name:'density-b-oxygen',L:540,x0:540.3,sx:3.722,zero:983.4,per:4885,top:878.6,ticks:dTicksBR,dec:2,
  cMin:dBR_min,cInt:dBR_int,cMax:dBR_max,pal:BLUE,ytX:487,ytY:934});
drawDensity({name:'density-c-carbon',L:86.2,x0:86.9,sx:3.644,zero:1553.4,per:1168,top:1448.4,ticks:dTicksCL,dec:3,
  cMin:dCL_min,cInt:dCL_int,cMax:dCL_max,pal:GREEN,ytX:26,ytY:1503});
drawDensity({name:'density-c-oxygen',L:538.7,x0:539.6,sx:3.64,zero:1553.4,per:6560,top:1448.4,ticks:dTicksCR,dec:3,
  cMin:dCR_min,cInt:dCR_int,cMax:dCR_max,pal:BLUE,ytX:478,ytY:1503});
</script>
</body></html>
